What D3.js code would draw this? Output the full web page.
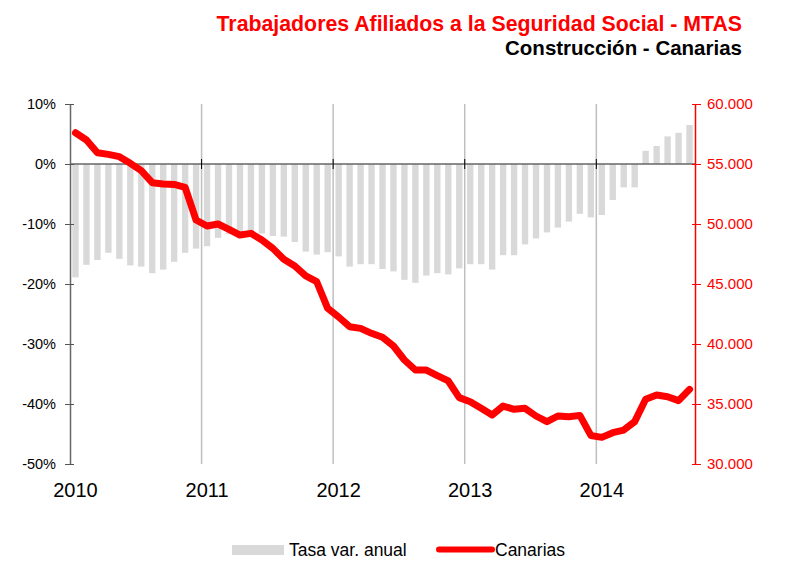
<!DOCTYPE html>
<html><head><meta charset="utf-8">
<script src="https://cdn.jsdelivr.net/npm/d3@7"></script>
<style>body{margin:0;background:#fff}svg{display:block;font-family:"Liberation Sans",Arial,sans-serif}</style>
</head><body><svg id="c" width="793" height="565"></svg>
<script>
const titleText = "Trabajadores Afiliados a la Seguridad Social - MTAS";
const subtitleText = "Construcción - Canarias";
const years = ["2010","2011","2012","2013","2014"];
// months Jan 2010 .. Sep 2014
const months = d3.range(57).map(i => (2010 + Math.floor(i/12)) + "-" + String(i%12+1).padStart(2,"0"));
const tasaVar = [
 -18.9,-16.8,-16.0,-14.8,-15.8,-16.9,-17.1,-18.2,-17.6,-16.3,-14.8,-14.1,
 -13.7,-12.3,-11.7,-11.2,-11.1,-11.6,-12.0,-12.1,-13.0,-14.6,-15.1,-14.7,
 -15.4,-17.1,-16.7,-16.7,-17.5,-17.9,-19.3,-19.8,-18.6,-18.2,-18.4,-17.4,
 -16.7,-16.7,-17.6,-15.2,-15.2,-13.4,-12.4,-11.4,-10.6,-9.6,-8.3,-8.9,
 -8.5,-6.0,-3.9,-3.9,2.2,3.0,4.6,5.2,6.5];
const canarias = [
 57600,57000,55940,55800,55610,55060,54440,53440,53330,53300,53060,50330,
 49830,50000,49560,49080,49220,48670,47970,47060,46500,45670,45190,42970,
 42250,41440,41300,40890,40560,39830,38670,37830,37830,37360,36920,35530,
 35190,34640,34080,34830,34560,34640,34000,33530,34000,33940,34050,32380,
 32220,32610,32830,33530,35390,35750,35610,35280,36220];
const leftTicks = [10,0,-10,-20,-30,-40,-50];
const rightTicks = [60000,55000,50000,45000,40000,35000,30000];
const legendLabels = ["Tasa var. anual","Canarias"];

const svg = d3.select("#c");
const L = 70, R = 695, T = 104, B = 464;
const x = d3.scaleBand().domain(months).range([L, R]).paddingInner(0.42).paddingOuter(0.21);
const xs = d3.scaleBand().domain(months).range([L, R]);
const yL = d3.scaleLinear().domain([-50, 10]).range([B, T]);
const yR = d3.scaleLinear().domain([30000, 60000]).range([B, T]);

// titles
svg.append("text").attr("x", 742).attr("y", 30.5).attr("text-anchor","end")
  .attr("font-size", 21.3).attr("font-weight","bold").attr("fill","#ff0000").text(titleText);
svg.append("text").attr("x", 742).attr("y", 55).attr("text-anchor","end")
  .attr("font-size", 20.5).attr("font-weight","bold").attr("fill","#000").text(subtitleText);

// year gridlines
const yearX = years.map(yy => xs(yy + "-01"));
svg.append("g").selectAll("line").data(yearX.slice(1)).join("line")
  .attr("x1", d => d).attr("x2", d => d).attr("y1", T).attr("y2", B)
  .attr("stroke", "#bfbfbf").attr("stroke-width", 1.5);

// bars
svg.append("g").selectAll("rect").data(tasaVar).join("rect")
  .attr("x", (d,i) => x(months[i])).attr("width", x.bandwidth())
  .attr("y", d => yL(Math.max(0,d))).attr("height", d => Math.abs(yL(d) - yL(0)))
  .attr("fill", "#d9d9d9");

// zero line
svg.append("line").attr("x1", L).attr("x2", R).attr("y1", yL(0)).attr("y2", yL(0))
  .attr("stroke", "#666").attr("stroke-width", 1.5);
svg.append("g").selectAll("line").data(yearX.slice(1)).join("line")
  .attr("x1", d => d).attr("x2", d => d).attr("y1", yL(0)-5).attr("y2", yL(0)+5)
  .attr("stroke", "#000").attr("stroke-width", 1);

// left axis
const gL = svg.append("g").attr("transform", `translate(${L},0)`)
  .call(d3.axisLeft(yL).tickValues(leftTicks).tickFormat(d => d + "%").tickSizeInner(4).tickSizeOuter(0).tickPadding(8));
gL.select(".domain").attr("stroke", "#666").attr("stroke-width", 1.5);
gL.selectAll(".tick line").attr("stroke", "#555").attr("x1", 4).attr("x2", -5);
gL.selectAll(".tick text").attr("font-size", 14.5).attr("fill", "#000").attr("font-family", "Liberation Sans, Arial, sans-serif").attr("x", -14);

// right axis
const gR = svg.append("g").attr("transform", `translate(${R},0)`)
  .call(d3.axisRight(yR).tickValues(rightTicks).tickFormat(d => d3.format(".3f")(d/1000)).tickSizeInner(4).tickSizeOuter(0));
gR.select(".domain").attr("stroke", "#ff0000").attr("stroke-width", 1.5);
gR.selectAll(".tick line").attr("stroke", "#ff0000").attr("x1", -3).attr("x2", 6);
gR.selectAll(".tick text").attr("font-size", 15).attr("fill", "#ff0000").attr("font-family", "Liberation Sans, Arial, sans-serif").attr("x", 12);

// year labels
svg.append("g").selectAll("text").data(years).join("text")
  .attr("x", yy => xs(yy + "-01") + xs.bandwidth()/2).attr("y", 497)
  .attr("text-anchor", "middle").attr("font-size", 20).attr("fill", "#000").text(d => d);

// line
const line = d3.line().x((d,i) => xs(months[i]) + xs.bandwidth()/2).y(d => yR(d));
svg.append("path").datum(canarias).attr("d", line).attr("fill","none")
  .attr("stroke","#ff0000").attr("stroke-width", 7).attr("stroke-linejoin","round").attr("stroke-linecap","round");

// legend
svg.append("rect").attr("x", 232).attr("y", 545).attr("width", 52).attr("height", 10).attr("fill", "#d9d9d9");
svg.append("text").attr("x", 289).attr("y", 556).attr("font-size", 17.5).attr("fill","#000").text(legendLabels[0]);
svg.append("line").attr("x1", 439).attr("x2", 492).attr("y1", 549.5).attr("y2", 549.5)
  .attr("stroke","#ff0000").attr("stroke-width", 6).attr("stroke-linecap","round");
svg.append("text").attr("x", 495).attr("y", 556).attr("font-size", 17.5).attr("fill","#000").text(legendLabels[1]);
</script></body></html>
